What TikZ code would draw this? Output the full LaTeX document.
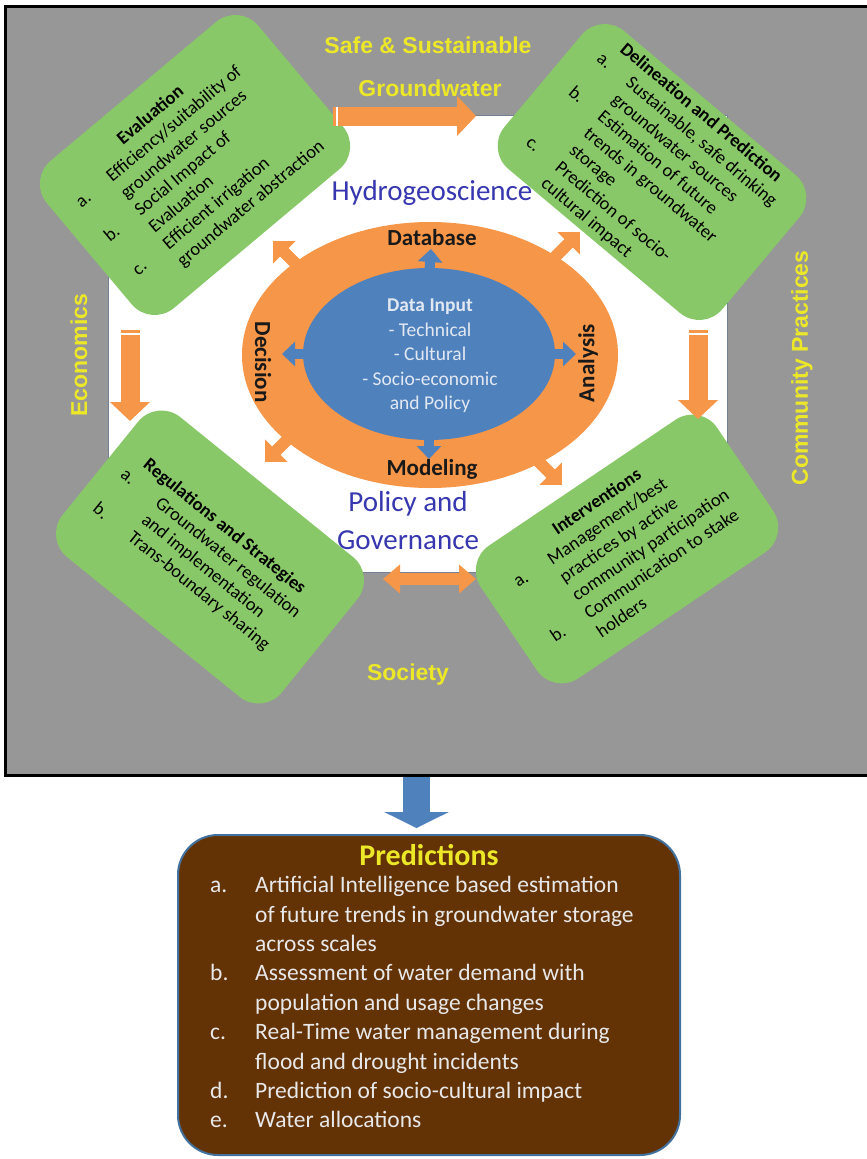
\documentclass[tikz,border=0pt]{standalone}
\usepackage{fontspec}
\setmainfont{Carlito}
\newfontfamily\labelfont{Liberation Sans}
\usetikzlibrary{arrows.meta,shapes.geometric}

\definecolor{panelgray}{RGB}{151,151,151}
\definecolor{fieldedge}{RGB}{115,128,150}
\definecolor{boxgreen}{RGB}{137,200,104}
\definecolor{ringorange}{RGB}{246,150,72}
\definecolor{coreblue}{RGB}{79,129,189}
\definecolor{coretext}{RGB}{226,232,242}
\definecolor{titleblue}{RGB}{55,55,175}
\definecolor{labelyellow}{RGB}{236,232,40}
\definecolor{predbrown}{RGB}{99,51,6}
\definecolor{prededge}{RGB}{65,113,156}
\definecolor{predtext}{RGB}{232,232,232}

\tikzset{
  greenbox/.style={fill=boxgreen, rounded corners=30pt, inner sep=0pt},
  boxtext/.style={anchor=north west, inner sep=0pt, text=black, font=\fontsize{18.5}{22}\selectfont},
  sidelabel/.style={text=labelyellow, inner sep=0pt, font=\labelfont\bfseries\fontsize{23}{27}\selectfont},
  ringlabel/.style={text=black!90, inner sep=0pt, font=\bfseries\fontsize{23}{27}\selectfont},
  fieldtitle/.style={text=titleblue, inner sep=0pt, font=\fontsize{29}{38}\selectfont},
  orangearrow/.style={draw=ringorange, line width=19pt, -{Triangle[width=39pt,length=19pt]}},
  twoway/.style={draw=ringorange, line width=12pt, {Triangle[width=28pt,length=17pt]}-{Triangle[width=28pt,length=17pt]}},
  diagarrow/.style={draw=ringorange, line width=12pt, -{Triangle[width=31pt,length=16pt]}},
  bluearrow/.style={draw=coreblue, line width=10pt, -{Triangle[width=24pt,length=13pt]}},
  downarrow/.style={draw=coreblue, line width=27pt, -{Triangle[width=64pt,length=16pt]}},
  notch/.style={draw=white, line width=1.5pt},
}

\begin{document}
\begin{tikzpicture}[x=1pt,y=-1pt]
\useasboundingbox (0,0) rectangle (867,1159);

% grey frame with the white field inside
\node[draw=black, line width=3pt, fill=panelgray, minimum width=864pt, minimum height=769pt, inner sep=0pt] (panel) at (437,390.5) {};
\node[draw=fieldedge, line width=1pt, fill=white, minimum width=619pt, minimum height=457pt, inner sep=0pt] (field) at (417.5,343.5) {};

% corner boxes
\begin{scope}[shift={(195,165)}, rotate=40, transform shape]
\node[greenbox, minimum width=276pt, minimum height=192pt] (evalbox) at (0,0) {};
\node[boxtext] (evaltext) at (-115,-77) {\begin{tabular}{@{}p{40pt}@{}l@{}}
  \multicolumn{2}{c}{\bfseries Evaluation}\\
  a. & Efficiency/suitability of\\
     & groundwater sources\\
  b. & Social Impact of\\
     & Evaluation\\
  c. & Efficient irrigation\\
     & groundwater abstraction
\end{tabular}};
\end{scope}

\begin{scope}[shift={(652,172)}, rotate=-40, transform shape]
\node[greenbox, minimum width=284pt, minimum height=180pt] (delinbox) at (0,0) {};
\node[boxtext] (delintext) at (-115,-87) {\begin{tabular}{@{}p{38pt}@{}l@{}}
  \multicolumn{2}{c}{\bfseries Delineation and Prediction}\\
  a. & Sustainable, safe drinking\\
     & groundwater sources\\
  b. & Estimation of future\\
     & trends in groundwater\\
     & storage\\
  c. & Prediction of socio-\\
     & cultural impact
\end{tabular}};
\end{scope}

\begin{scope}[shift={(210,557)}, rotate=-39, transform shape]
\node[greenbox, minimum width=282pt, minimum height=180pt] (regbox) at (0,0) {};
\node[boxtext] (regtext) at (-121,-43) {\begin{tabular}{@{}p{45pt}@{}l@{}}
  \multicolumn{2}{c}{\bfseries Regulations and Strategies}\\
  a. & Groundwater regulation\\
     & and implementation\\
  b. & Trans-boundary sharing
\end{tabular}};
\end{scope}

\begin{scope}[shift={(627,549)}, rotate=34, transform shape]
\node[greenbox, minimum width=285pt, minimum height=160pt] (intbox) at (0,0) {};
\node[boxtext] (inttext) at (-112,-66) {\begin{tabular}{@{}p{41pt}@{}l@{}}
  \multicolumn{2}{c}{\bfseries Interventions}\\
  a. & Management/best\\
     & practices by active\\
     & community participation\\
  b. & Communication to stake\\
     & holders
\end{tabular}};
\end{scope}

% block arrows between the boxes
\coordinate (toptail) at (333,116);
\coordinate (tophead) at (476,116);
\coordinate (ltail) at (130,330);
\coordinate (lhead) at (130,421);
\coordinate (rtail) at (698,330);
\coordinate (rhead) at (698,419);
\coordinate (bleft) at (383,579);
\coordinate (bright) at (476,579);
\draw[orangearrow] (toptail) -- (tophead);
\draw[orangearrow] (ltail) -- (lhead);
\draw[orangearrow] (rtail) -- (rhead);
\draw[twoway] (bleft) -- (bright);
\draw[notch] ([xshift=4pt,yshift=9.5pt]toptail) -- ([xshift=4pt,yshift=-9.5pt]toptail);
\draw[notch] ([xshift=-9.5pt,yshift=-4pt]ltail) -- ([xshift=9.5pt,yshift=-4pt]ltail);
\draw[notch] ([xshift=-9.5pt,yshift=-4pt]rtail) -- ([xshift=9.5pt,yshift=-4pt]rtail);

% orange ring and its four outward arrows
\node[ellipse, fill=ringorange, minimum width=376pt, minimum height=266pt, inner sep=0pt] (ring) at (430,355) {};
\coordinate (nwtail) at (313,281);
\coordinate (nwtip) at (273,241);
\coordinate (netail) at (540,272);
\coordinate (netip) at (580,232);
\coordinate (swtail) at (305,422);
\coordinate (swtip) at (265,462);
\coordinate (setail) at (522,445);
\coordinate (setip) at (562,485);
\foreach \a in {nw,ne,sw,se}
  \draw[diagarrow] (\a tail) -- (\a tip);

% blue core
\node[ellipse, fill=coreblue, minimum width=252pt, minimum height=172pt, inner sep=0pt] (core) at (429,354) {};
\coordinate (uptip) at (431,249);
\coordinate (downtip) at (429,459);
\coordinate (lefttip) at (282,354);
\coordinate (righttip) at (576,354);
\draw[bluearrow] ([yshift=-10pt]core.north) -- (uptip);
\draw[bluearrow] ([yshift=10pt]core.south) -- (downtip);
\draw[bluearrow] ([xshift=10pt]core.west) -- (lefttip);
\draw[bluearrow] ([xshift=-10pt]core.east) -- (righttip);

\node[text=coretext, align=center, inner sep=0pt, font=\fontsize{19.5}{24.5}\selectfont] (datainput) at (430,356)
  {\textbf{Data Input}\\- Technical\\- Cultural\\- Socio-economic\\and Policy};

\node[ringlabel] (database) at (432,238) {Database};
\node[ringlabel] (modeling) at (432,469) {Modeling};
\node[ringlabel, rotate=-90] (decision) at (263,362) {Decision};
\node[ringlabel, rotate=90] (analysis) at (588,363) {Analysis};

\node[fieldtitle] (hydro) at (432,193) {Hydrogeoscience};
\node[fieldtitle, align=center] (policy) at (408,521) {Policy and\\Governance};

% yellow side labels
\node[sidelabel] (safe) at (428,45) {Safe \& Sustainable};
\node[sidelabel] (groundwater) at (430,88) {Groundwater};
\node[sidelabel, rotate=90] (economics) at (79,355) {Economics};
\node[sidelabel, rotate=90] (community) at (802,368) {Community Practices};
\node[sidelabel] (society) at (408,675) {Society};

% outcome box below the frame
\node[draw=prededge, line width=2pt, fill=predbrown, rounded corners=40pt, minimum width=502pt, minimum height=320pt, inner sep=0pt] (predbox) at (429,995) {};
\coordinate (predin) at (416.5,828);
\draw[downarrow] (panel.south -| predin) -- (predin);
\node[text=labelyellow, inner sep=0pt, font=\bfseries\fontsize{30}{36}\selectfont] (predtitle) at (429,855) {Predictions};
\node[anchor=north west, inner sep=0pt, text=predtext, font=\fontsize{23.5}{29.4}\selectfont] (predlist) at (210,872) {\begin{tabular}{@{}p{45pt}@{}l@{}}
  a. & Artificial Intelligence based estimation\\
     & of future trends in groundwater storage\\
     & across scales\\
  b. & Assessment of water demand with\\
     & population and usage changes\\
  c. & Real-Time water management during\\
     & flood and drought incidents\\
  d. & Prediction of socio-cultural impact\\
  e. & Water allocations
\end{tabular}};
\end{tikzpicture}
\end{document}
